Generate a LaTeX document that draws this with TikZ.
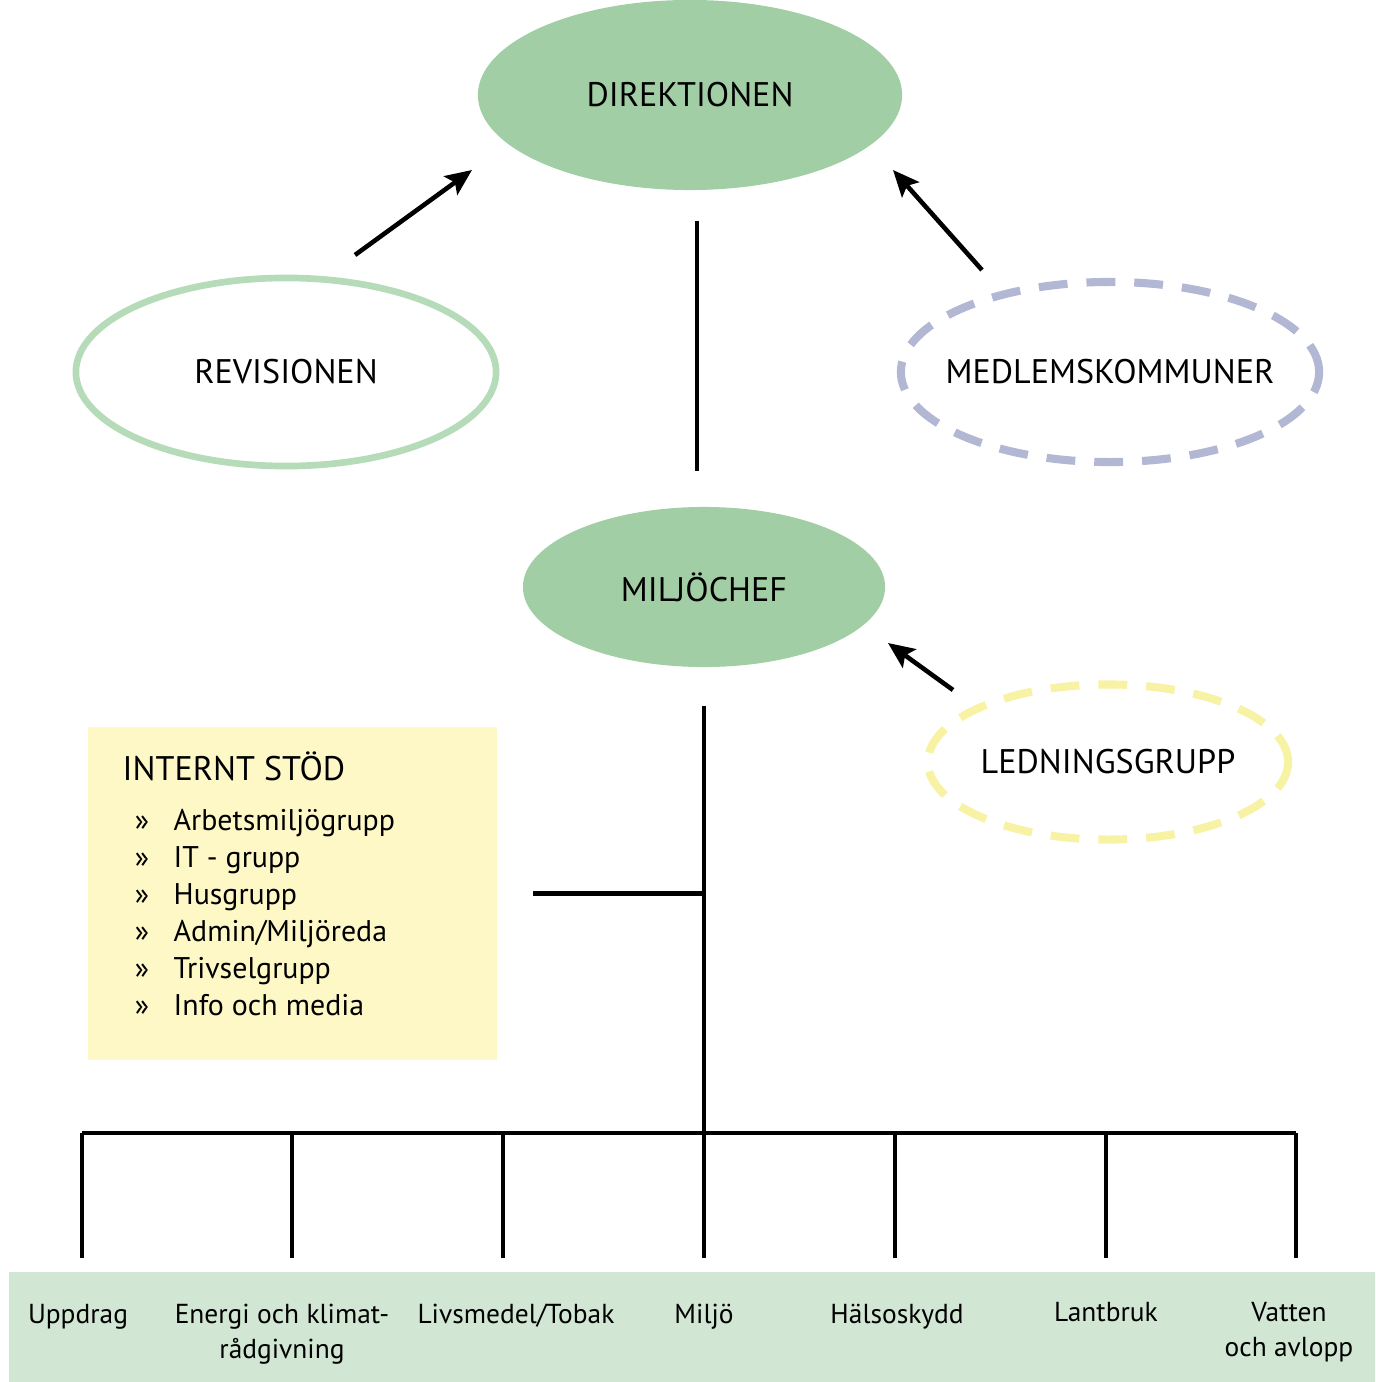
\documentclass[tikz,border=0pt]{standalone}
\usepackage{fontspec}
\setmainfont{PT Sans}
\usetikzlibrary{arrows.meta,shapes.geometric}
\definecolor{leafgreen}{HTML}{A1CEA4}
\definecolor{revgreen}{HTML}{B6DBB8}
\definecolor{kommunblue}{HTML}{B2B7D3}
\definecolor{ledyellow}{HTML}{F8F2A4}
\definecolor{stodyellow}{HTML}{FEF7C6}
\definecolor{bandgreen}{HTML}{D1E6D3}

\begin{document}
\begin{tikzpicture}[x=0.01cm,y=-0.01cm,
    unit/.style={ellipse, inner sep=0pt, font=\fontsize{9.7}{11}\selectfont},
    body/.style={unit, fill=leafgreen},
    ring/.style={unit, draw=revgreen, line width=1.9pt},
    dashring/.style={unit, line width=2.3pt, dash pattern=on 8.2pt off 5.4pt},
    conn/.style={line width=1.2pt},
    arr/.style={line width=1.3pt, -{Stealth[length=7.5pt,width=6.5pt,inset=1.5pt]}},
    dept/.style={anchor=north, inner sep=0pt, align=center, font=\fontsize{7.8}{10}\selectfont},
    item/.style={anchor=base west, inner sep=0pt, font=\fontsize{8.5}{10}\selectfont}
  ]
    \useasboundingbox (0,0) rectangle (1375,1382);

    %%%%% BACKGROUND BOXES %%%%%
    \fill[bandgreen] (9,1272) rectangle (1375,1382);
    \node[fill=stodyellow, minimum width=4.09cm, minimum height=3.33cm, inner sep=0pt] (stod) at (292.5,893.5) {};

    %%%%% TOP LEVEL %%%%%
    \node[body, minimum width=4.24cm, minimum height=1.9cm] (dir) at (690,95) {DIREKTIONEN};
    \node[ring, minimum width=4.2cm, minimum height=1.88cm] (rev) at (286,372) {REVISIONEN};
    \node[dashring, draw=kommunblue, inner xsep=-0.6cm, minimum width=4.18cm, minimum height=1.8cm] (kommun) at (1110,372) {MEDLEMSKOMMUNER};

    \coordinate (revout) at (355,255);
    \coordinate (revin) at (472,170);
    \coordinate (kommunout) at (982,270);
    \coordinate (kommunin) at (893,170);
    \draw[arr] (revout) -- (revin);
    \draw[arr] (kommunout) -- (kommunin);

    %%%%% MILJOCHEF %%%%%
    \node[body, minimum width=3.62cm, minimum height=1.6cm] (chef) at (704,587) {MILJÖCHEF};
    \node[dashring, draw=ledyellow, inner xsep=-0.2cm, minimum width=3.6cm, minimum height=1.55cm] (led) at (1108,762) {LEDNINGSGRUPP};
    \draw[conn, shorten <=0.3cm, shorten >=0.35cm] (dir.south -| 697,0) -- (chef.north -| 697,0);

    \coordinate (ledout) at (953,690);
    \coordinate (ledin) at (888,643);
    \draw[arr] (ledout) -- (ledin);

    %%%%% TRUNK %%%%%
    \coordinate (bus) at (704,1133);
    \draw[conn, shorten <=0.38cm] (chef.south) -- (bus);
    \draw[conn, shorten <=0.35cm] (stod.east) -- (stod.east -| bus);
    \draw[conn] (82,1133) coordinate (busw) -- (1296,1133) coordinate (buse);
    \foreach \x [count=\i] in {82,292,503,704,895,1106,1296} {
      \coordinate (drop\i) at (\x,1133);
      \coordinate (foot\i) at (\x,1258);
      \draw[conn] (drop\i) -- (foot\i);
    }

    %%%%% INTERNT STOD %%%%%
    \node[anchor=base west, inner sep=0pt, font=\fontsize{9.7}{11}\selectfont] (stodtitle) at (122,780) {INTERNT STÖD};
    \foreach \txt [count=\i] in {Arbetsmiljögrupp, IT - grupp, Husgrupp, Admin/Miljöreda, Trivselgrupp, Info och media} {
      \node[item, anchor=base] (mark\i) at (142,793+37*\i) {»};
      \node[item] (stod\i) at (173,793+37*\i) {\txt};
    }

    %%%%% DEPARTMENTS %%%%%
    \node[dept] (uppdrag) at (78,1298) {\strut Uppdrag};
    \node[dept] (energi) at (282,1298) {\strut Energi och klimat-\\rådgivning};
    \node[dept] (livsmedel) at (516,1298) {\strut Livsmedel/Tobak};
    \node[dept] (miljo) at (704,1298) {\strut Miljö};
    \node[dept] (halsa) at (897,1298) {\strut Hälsoskydd};
    \node[dept] (lantbruk) at (1106,1296) {\strut Lantbruk};
    \node[dept] (vatten) at (1289,1296) {\strut Vatten\\och avlopp};
\end{tikzpicture}
\end{document}
